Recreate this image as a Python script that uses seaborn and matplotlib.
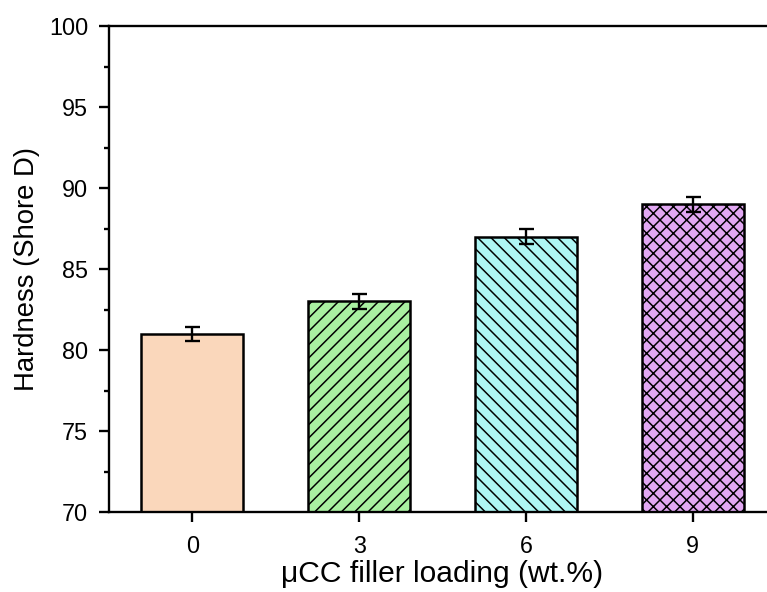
import matplotlib
matplotlib.use("Agg")
import matplotlib.pyplot as plt
import seaborn as sns
from matplotlib.ticker import MultipleLocator

# Shore D hardness vs. micro calcium carbonate filler content
loading = ["0", "3", "6", "9"]
hardness = [81.0, 83.0, 87.0, 89.0]
hardness_err = [0.45, 0.45, 0.45, 0.45]
bar_colors = ["#FAD7BB", "#A9F0A1", "#AEF6F4", "#E2A8F3"]
bar_hatches = ["", "///", "\\\\\\", "xxx"]

sns.set_theme(style="ticks")
plt.rcParams["font.family"] = ["Liberation Sans", "DejaVu Sans"]
plt.rcParams["hatch.linewidth"] = 0.9
plt.rcParams["hatch.color"] = "#222222"

dpi = 120
fig = plt.figure(figsize=(767 / dpi, 592 / dpi), dpi=dpi)
ax = fig.add_axes([0.142, 0.135, 0.870, 0.821])

sns.barplot(x=loading, y=hardness, hue=loading, palette=bar_colors,
            saturation=1, legend=False, width=0.61, edgecolor="black",
            linewidth=1.5, ax=ax, zorder=2)

for patch, hatch in zip(ax.patches, bar_hatches):
    patch.set_hatch(hatch)

ax.errorbar(range(len(loading)), hardness, yerr=hardness_err, fmt="none",
            ecolor="black", elinewidth=1.4, capsize=4.5, capthick=1.4, zorder=3)

ax.set_ylim(70, 100)
ax.set_xlim(-0.5, 3.5)
ax.yaxis.set_major_locator(MultipleLocator(5))
ax.yaxis.set_minor_locator(MultipleLocator(2.5))

ax.set_xlabel("μCC filler loading (wt.%)", fontsize=18, labelpad=1, color="black")
ax.set_ylabel("Hardness (Shore D)", fontsize=16.5, labelpad=5, color="black")

for side in ["left", "bottom", "top", "right"]:
    ax.spines[side].set_linewidth(1.4)
    ax.spines[side].set_color("black")

ax.tick_params(axis="both", which="major", direction="out", length=6,
               width=1.4, labelsize=14, colors="black")
ax.tick_params(axis="x", which="major", pad=8)
ax.tick_params(axis="y", which="major", pad=6.5)
ax.tick_params(axis="y", which="minor", direction="out", length=3,
               width=1.4, colors="black")
ax.tick_params(axis="x", which="minor", length=0)

fig.savefig("out.png", dpi=dpi)
